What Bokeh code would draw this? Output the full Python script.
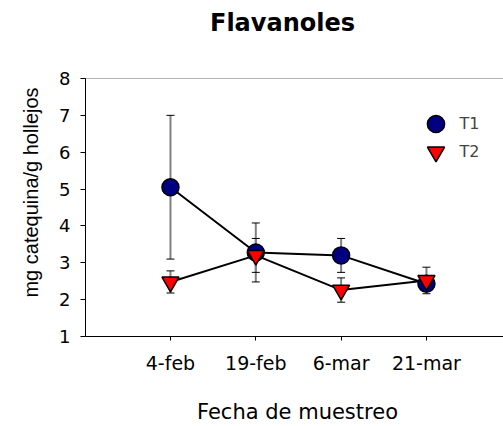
from bokeh.plotting import figure
from bokeh.models import (ColumnDataSource, Whisker, TeeHead, Range1d, FixedTicker,
                          Label, Legend, LegendItem, LinearAxis, BoxAnnotation)
from bokeh.embed import file_html
from bokeh.resources import INLINE
import math

# Sampling dates and measured flavanols (mg catechin / g skins), mean and error
dates = ["4-feb", "19-feb", "6-mar", "21-mar"]
t1_mean = [5.05, 3.28, 3.20, 2.43]
t1_err = [1.95, 0.80, 0.46, 0.08]
t2_mean = [2.48, 3.20, 2.26, 2.52]
t2_err = [0.30, 0.46, 0.33, 0.36]
y_ticks = [1, 2, 3, 4, 5, 6, 7, 8]

pos = list(range(len(dates)))

src1 = ColumnDataSource(dict(
    x=pos, y=t1_mean,
    upper=[m + e for m, e in zip(t1_mean, t1_err)],
    lower=[m - e for m, e in zip(t1_mean, t1_err)],
))
src2 = ColumnDataSource(dict(
    x=pos, y=t2_mean,
    upper=[m + e for m, e in zip(t2_mean, t2_err)],
    lower=[m - e for m, e in zip(t2_mean, t2_err)],
))

FONT = "DejaVu Sans"

# The frame covers the whole canvas; the axes sit at fixed data locations
# so titles and legend can be placed freely inside it.
X_LO, X_HI = -0.996, 3.903       # visible plotting box along x
Y_LO, Y_HI = 1, 8                # visible plotting box along y

p = figure(width=503, height=426, output_backend="svg", toolbar_location=None,
           x_range=Range1d(-1.992, X_HI), y_range=Range1d(-1.442, 10.116),
           x_axis_type=None, y_axis_type=None,
           min_border_left=0, min_border_right=0, min_border_top=0,
           min_border_bottom=0)
p.grid.grid_line_color = None
p.outline_line_color = None
p.background_fill_color = "white"
p.border_fill_color = "white"

# plotting box border (right side falls beyond the canvas)
p.add_layout(BoxAnnotation(left=X_LO, right=X_HI + 0.2, bottom=Y_LO, top=Y_HI,
                           fill_alpha=0, line_color="black", line_width=1))

xaxis = LinearAxis(fixed_location=Y_LO, bounds=(X_LO, X_HI),
                   ticker=FixedTicker(ticks=pos),
                   major_label_overrides={i: d for i, d in enumerate(dates)})
yaxis = LinearAxis(fixed_location=X_LO, bounds=(Y_LO, Y_HI),
                   ticker=FixedTicker(ticks=y_ticks))
for ax in (xaxis, yaxis):
    ax.axis_line_color = "black"
    ax.major_tick_line_color = "black"
    ax.minor_tick_line_color = None
    ax.major_tick_in = 0
    ax.major_label_text_font = FONT
    ax.major_label_text_font_size = "18px"
    ax.major_label_text_color = "black"
xaxis.major_label_text_font_size = "19px"
xaxis.major_tick_out = 4
yaxis.major_tick_out = 5
xaxis.major_label_standoff = 12
yaxis.major_label_standoff = 10
p.add_layout(xaxis, "below")
p.add_layout(yaxis, "left")

# error bars
for src in (src1, src2):
    w = Whisker(source=src, base="x", upper="upper", lower="lower",
                dimension="height", line_color="#808080", line_width=2,
                upper_head=TeeHead(size=8, line_color="black", line_width=1),
                lower_head=TeeHead(size=8, line_color="black", line_width=1))
    p.add_layout(w)

# connecting lines
p.line("x", "y", source=src1, line_color="black", line_width=2)
p.line("x", "y", source=src2, line_color="black", line_width=2)

# markers
r1 = p.scatter("x", "y", source=src1, marker="circle", size=17,
               fill_color="#000080", line_color="black", line_width=1.5)
r2 = p.scatter("x", "y", source=src2, marker="inverted_triangle", size=17,
               fill_color="#ff0000", line_color="black", line_width=1.5)

# legend, one entry per box so the markers keep their size
for label, rend, ypos in (("T1", r1, 281.5), ("T2", r2, 253.5)):
    lg = Legend(items=[LegendItem(label=label, renderers=[rend])],
                location=(413.5, ypos), orientation="vertical",
                glyph_width=43, glyph_height=43, label_standoff=3,
                padding=0, margin=0, spacing=0,
                background_fill_alpha=0, border_line_color=None,
                label_text_font=FONT, label_text_font_size="16px",
                label_text_baseline="middle")
    p.add_layout(lg)

# title and axis titles
p.add_layout(Label(x=282, y=404, x_units="screen", y_units="screen",
                   text="Flavanoles", text_font=FONT, text_font_size="24px",
                   text_font_style="bold", text_align="center",
                   text_baseline="alphabetic", text_color="black"))
p.add_layout(Label(x=297, y=15, x_units="screen", y_units="screen",
                   text="Fecha de muestreo", text_font=FONT, text_font_size="21px",
                   text_align="center", text_baseline="alphabetic",
                   text_color="black"))
p.add_layout(Label(x=30, y=234, x_units="screen", y_units="screen",
                   text="mg catequina/g hollejos", text_font="Liberation Sans",
                   text_font_size="20px", angle=math.pi / 2,
                   text_align="center", text_baseline="middle",
                   text_color="black"))

open("out.html", "w").write(file_html(p, INLINE))
